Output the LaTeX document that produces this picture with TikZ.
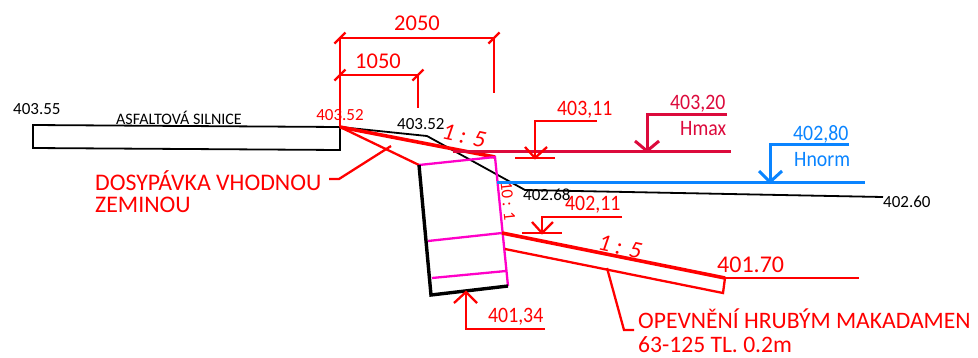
\documentclass[tikz,border=0pt]{standalone}
\usepackage{fontspec}
\setmainfont{Carlito}
\usetikzlibrary{calc}
\definecolor{hmaxred}{HTML}{DC0A3C}
\definecolor{hnormblue}{HTML}{0A84FF}
\definecolor{wallpink}{HTML}{FF00C8}
\tikzset{
    redline/.style={draw=red, line width=2.3pt},
    redthick/.style={draw=red, line width=3.6pt},
    blackline/.style={draw=black, line width=1.8pt},
    wallblack/.style={draw=black, line width=3.4pt},
    wallline/.style={draw=wallpink, line width=2.3pt},
    hmaxline/.style={draw=hmaxred, line width=3pt},
    hnormline/.style={draw=hnormblue, line width=3pt},
    txt/.style={inner sep=0pt, anchor=west, font=\fontsize{#1}{#1}\selectfont},
    lvl/.style={inner sep=0pt, anchor=west, xscale=0.9, font=\fontsize{22}{22}\selectfont},
    mid/.style={inner sep=0pt, font=\fontsize{#1}{#1}\selectfont},
    slope/.style={inner sep=0pt, text=red, font=\fontsize{#1}{#1}\selectfont\itshape},
}
\begin{document}
\begin{tikzpicture}[x=1pt, y=-1pt]
    \useasboundingbox (0,0) rectangle (978,357);
    % road
    \coordinate (roadA) at (33,125);
    \coordinate (roadB) at (340,127);
    \coordinate (roadC) at (340,150);
    \coordinate (roadD) at (33,148);
    \draw[blackline] (roadA) -- (roadB) -- (roadC) -- (roadD) -- cycle;
    \node[txt=17] (lvlRoad) at (13,109) {403.55};
    \node[txt=16] (roadName) at (116,118) {ASFALTOVÁ SILNICE};
    % terrain
    \coordinate (terrA) at (427,136);
    \coordinate (terrB) at (525,190);
    \coordinate (terrC) at (883,197);
    \draw[blackline] (roadB) -- (terrA) -- (terrB) -- (terrC);
    \node[txt=17] (lvlTerrA) at (397,124) {403.52};
    \node[txt=17] (lvlTerrB) at (523,195) {402.68};
    \node[txt=17] (lvlTerrC) at (883,202) {402.60};
    % dimensions
    \coordinate (dimTop) at (340,38);
    \coordinate (dimMid) at (340,75);
    \coordinate (dimA) at (494,38);
    \coordinate (dimAend) at (494,93);
    \coordinate (dimB) at (418,75);
    \coordinate (dimBend) at (418,108);
    \draw[redline] (roadB) -- (dimTop) -- (dimA) -- (dimAend);
    \draw[redline] (dimMid) -- (dimB) -- (dimBend);
    \foreach \p in {dimTop,dimMid,dimA,dimB}
        \draw[redline] ($(\p)+(-5.5,5.5)$) -- ($(\p)+(5.5,-5.5)$);
    \node[mid=22.5, text=red] (lblWide) at (417,23) {2050};
    \node[mid=22.5, text=red] (lblNarrow) at (378,61) {1050};
    \node[mid=17, text=red] (lvlCrest) at (340,115) {403.52};
    % wall
    \coordinate (wallA) at (419,165);
    \coordinate (wallB) at (495,157);
    \coordinate (wallC) at (508,286);
    \coordinate (wallD) at (431,295);
    \coordinate (jointA) at (428,241);
    \coordinate (jointB) at (502,233);
    \coordinate (jointC) at (432,278);
    \coordinate (jointD) at (506,271);
    \draw[redthick] (roadB) -- (wallB);
    \draw[redline] (roadB) -- (wallA);
    \draw[wallline] (wallA) -- (wallB) -- (wallC);
    \draw[wallline] (jointA) -- (jointB);
    \draw[wallline] (jointC) -- (jointD);
    \draw[wallblack] (wallA) -- (wallD) -- (wallC);
    \node[slope=24, rotate=-12] (slopeTop) at (464,136) {1 : 5};
    \node[mid=17, text=red, rotate=-84] (slopeWall) at (508,201) {10 : 1};
    % fill and note
    \coordinate (noteA) at (391,146);
    \coordinate (noteB) at (339,179);
    \coordinate (noteC) at (329,179);
    \draw[redline] (noteA) -- (noteB) -- (noteC);
    \node[txt=23.8, text=red] (noteFillA) at (95,181) {DOSYPÁVKA VHODNOU};
    \node[txt=23.8, text=red] (noteFillB) at (95,205) {ZEMINOU};
    % Hmax
    \coordinate (hmaxA) at (453,151);
    \coordinate (hmaxB) at (731,151);
    \coordinate (hmaxTip) at (647,151);
    \coordinate (hmaxTop) at (647,114);
    \coordinate (hmaxEnd) at (727,114);
    \draw[hmaxline] (hmaxA) -- (hmaxB);
    \draw[hmaxline] (hmaxEnd) -- (hmaxTop) -- (hmaxTip);
    \draw[hmaxline] (635,141) -- (hmaxTip) -- (659,141);
    \node[lvl, text=hmaxred] (lvlHmax) at (670,104) {403,20};
    \node[lvl, text=hmaxred] (lblHmax) at (680,129) {Hmax};
    % Hnorm
    \coordinate (hnormA) at (497,182);
    \coordinate (hnormB) at (865,182);
    \coordinate (hnormTip) at (770,182);
    \coordinate (hnormTop) at (770,144);
    \coordinate (hnormEnd) at (849,144);
    \draw[hnormline] (hnormA) -- (hnormB);
    \draw[hnormline] (hnormEnd) -- (hnormTop) -- (hnormTip);
    \draw[hnormline] (759,171) -- (hnormTip) -- (782,171);
    \node[lvl, text=hnormblue] (lvlHnorm) at (793,134) {402,80};
    \node[lvl, text=hnormblue] (lblHnorm) at (794,160) {Hnorm};
    % level 403,11
    \coordinate (crestTip) at (535,158);
    \coordinate (crestTop) at (535,121);
    \coordinate (crestEnd) at (597,121);
    \draw[redline] (crestEnd) -- (crestTop) -- (crestTip);
    \draw[redline] (515,158) -- (555,158);
    \draw[redline] (525,147) -- (crestTip) -- (547,147);
    \node[lvl, text=red] (lvlWater) at (557,110) {403,11};
    % level 402,11
    \coordinate (toeTip) at (542,233);
    \coordinate (toeTop) at (542,217);
    \coordinate (toeEnd) at (622,217);
    \draw[redline] (toeEnd) -- (toeTop) -- (toeTip);
    \draw[redline] (522,233) -- (562,233);
    \draw[redline] (532,222) -- (toeTip) -- (553,222);
    \node[lvl, text=red] (lvlToe) at (565,205) {402,11};
    % level 401,34
    \coordinate (baseTip) at (466,292);
    \coordinate (baseLow) at (466,329);
    \coordinate (baseEnd) at (545,329);
    \draw[redline] (baseEnd) -- (baseLow) -- (baseTip);
    \draw[redline] (454,303) -- (baseTip) -- (477,303);
    \node[lvl, text=red] (lvlBase) at (488,317) {401,34};
    % lining
    \coordinate (lineA) at (725,278);
    \coordinate (lineB) at (859,278);
    \coordinate (lineC) at (505,249);
    \coordinate (lineD) at (723,293);
    \draw[redthick] (jointB) -- (lineA);
    \draw[redline] (lineA) -- (lineB);
    \draw[redline] (lineC) -- (lineD) -- (lineA);
    \node[slope=24, rotate=-12] (slopeLow) at (620,247) {1 : 5};
    \node[txt=24, text=red] (lvlLining) at (717,265) {401.70};
    \coordinate (leadA) at (607,268);
    \coordinate (leadB) at (624,330);
    \coordinate (leadC) at (634,330);
    \draw[redline] (leadA) -- (leadB) -- (leadC);
    \node[txt=23.6, text=red] (noteLiningA) at (638,319) {OPEVNĚNÍ HRUBÝM MAKADAMEN};
    \node[txt=23.6, text=red] (noteLiningB) at (638,345) {63-125 TL. 0.2m};
\end{tikzpicture}
\end{document}
